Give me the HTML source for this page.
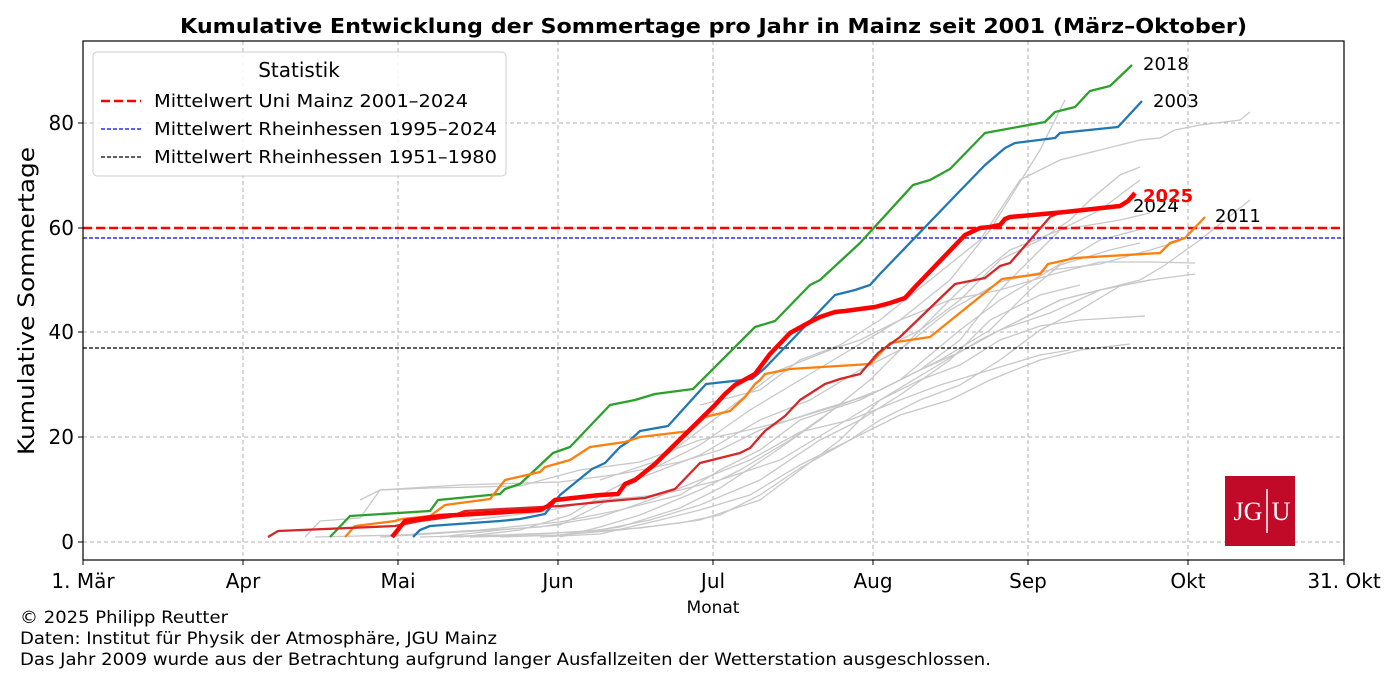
<!DOCTYPE html>
<html><head><meta charset="utf-8"><style>
body{margin:0;background:#fff;}
svg{display:block;font-family:"DejaVu Sans","Liberation Sans",sans-serif;}
</style></head><body>
<svg width="1400" height="700" viewBox="0 0 1400 700">
<rect width="1400" height="700" fill="#fff"/>
<text x="180" y="33" font-size="20" font-weight="bold" textLength="1067" lengthAdjust="spacingAndGlyphs">Kumulative Entwicklung der Sommertage pro Jahr in Mainz seit 2001 (März–Oktober)</text>
<g stroke="#b0b0b0" stroke-width="1" stroke-dasharray="4,3">
<line x1="83" x2="1344" y1="542" y2="542"/><line x1="83" x2="1344" y1="437" y2="437"/>
<line x1="83" x2="1344" y1="332" y2="332"/><line x1="83" x2="1344" y1="228" y2="228"/>
<line x1="83" x2="1344" y1="123" y2="123"/>
<line x1="243" x2="243" y1="41" y2="560"/><line x1="398" x2="398" y1="41" y2="560"/>
<line x1="558" x2="558" y1="41" y2="560"/><line x1="713" x2="713" y1="41" y2="560"/>
<line x1="873" x2="873" y1="41" y2="560"/><line x1="1028" x2="1028" y1="41" y2="560"/>
<line x1="1188" x2="1188" y1="41" y2="560"/>
</g>
<g fill="none" stroke="#c8c8c8" stroke-width="1.3">
<polyline points="305,537 320,521 360,518 380,490 430,488 520,486 580,470 640,462 700,440 740,432 790,420 840,405 880,390 940,360 990,330 1030,290 1060,265 1110,250 1140,243"/>
<polyline points="315,537 400,535 480,530 560,522 620,510 680,495 720,470 760,450 800,420 860,400 900,380 960,330 1000,300 1050,270 1100,240 1145,228"/>
<polyline points="440,537 500,530 560,525 600,505 640,478 700,455 760,420 810,400 860,370 900,350 960,290 1010,250 1060,230 1120,220 1150,213"/>
<polyline points="450,537 540,534 600,530 650,520 700,505 760,480 820,440 860,420 900,395 950,360 990,320 1040,295 1080,285"/>
<polyline points="420,537 500,535 580,532 640,528 700,520 760,500 800,470 840,440 880,400 920,380 960,365 1000,340 1040,326 1080,320 1145,316"/>
<polyline points="470,537 560,535 620,530 680,523 720,515 760,495 800,468 850,440 880,420 920,400 960,385 1000,360 1040,330 1080,310 1120,286 1150,280"/>
<polyline points="500,537 560,535 620,527 680,508 720,488 770,455 820,420 870,380 900,350 950,310 1000,282 1050,270 1100,264 1150,250 1180,241"/>
<polyline points="380,537 460,532 540,527 600,517 650,500 700,480 750,460 800,432 850,420 900,400 940,385 990,370 1040,355 1070,350"/>
<polyline points="560,537 600,527 640,515 700,490 740,470 790,440 840,405 880,390 920,370 960,352 1000,330 1050,313 1100,290 1150,280 1195,274"/>
<polyline points="540,537 600,534 660,520 700,510 750,495 800,465 850,440 900,415 950,400 990,380 1040,360 1080,350 1130,344"/>
<polyline points="360,500 380,490 460,485 560,482 620,474 680,462 720,450 760,430 820,410 870,395 920,370 960,340 1000,290 1040,250 1060,230 1100,210 1140,180"/>
<polyline points="460,537 520,530 570,515 610,490 650,470 700,445 750,410 800,380 850,350 900,320 950,280 990,230 1040,150 1065,100"/>
<polyline points="700,405 760,390 800,360 840,345 880,320 930,280 980,240 1020,180 1060,160 1100,150 1140,140 1160,138 1175,130 1200,125 1240,120 1250,112"/>
<polyline points="600,480 660,460 700,430 740,400 780,370 830,350 860,340 900,320 950,300 1000,290 1050,275 1100,262 1150,262 1195,263"/>
<polyline points="470,520 540,512 600,500 660,495 720,480 780,460 830,430 880,400 930,370 980,340 1020,320 1060,300 1100,290"/>
<polyline points="880,350 920,330 960,300 1000,260 1040,240 1070,220 1090,200 1120,175 1140,167"/>
<polyline points="1020,320 1060,300 1100,290 1140,280 1165,265 1200,240 1250,200"/>
</g>
<line x1="83" x2="1344" y1="228" y2="228" stroke="#ff0000" stroke-width="2.5" stroke-dasharray="9,4"/>
<line x1="83" x2="1344" y1="238" y2="238" stroke="#0000ff" stroke-width="1.2" stroke-dasharray="4,2"/>
<line x1="83" x2="1344" y1="348" y2="348" stroke="#000" stroke-width="1.2" stroke-dasharray="4,2"/>
<g fill="none" stroke-width="2.3" stroke-linejoin="round">
<polyline stroke="#2ca02c" points="330,537 350,516 430,511 438,500 500,494 505,489 520,484 553,453 570,447 610,405 635,400 655,394 693,389 755,327 775,321 810,285 820,280 860,243 913,185 930,180 950,169 985,133 1045,122 1055,112 1075,107 1090,91 1110,86 1132,65"/>
<polyline stroke="#1f77b4" points="413,537 420,530 430,526 500,521 520,519 545,514 560,495 592,469 605,463 620,447 628,442 640,431 668,426 706,384 752,379 765,368 835,295 855,290 870,285 880,274 955,196 985,165 1005,148 1015,143 1055,138 1060,133 1118,127 1142,101"/>
<polyline stroke="#ff7f0e" points="345,537 355,526 395,521 402,519 430,516 445,505 490,499 505,480 540,472 545,467 570,460 590,447 625,442 640,437 690,431 705,417 730,411 745,397 755,384 760,380 765,374 790,369 870,364 890,343 930,337 1002,279 1040,274 1048,264 1075,258 1160,253 1170,243 1185,238 1205,217"/>
<polyline stroke="#d62728" points="268,537 278,531 395,526 420,521 450,517 465,511 560,506 610,501 645,498 675,489 700,463 720,458 740,453 750,448 765,431 785,416 800,400 825,384 840,379 860,374 878,353 900,337 955,284 985,278 1000,266 1010,263 1050,217 1062,212 1120,207 1135,196"/>
<polyline stroke="#ff0000" stroke-width="4.5" points="392,537 405,521 440,516 540,510 548,506 555,500 600,495 618,494 625,484 635,480 655,464 715,405 725,394 735,385 755,374 770,354 790,333 810,322 820,317 835,312 845,311 875,307 890,303 905,298 915,287 965,235 980,228 990,227 1000,225 1005,219 1010,217 1065,212 1120,206 1128,201 1135,193"/>
</g>
<g font-size="18">
<text x="1143" y="70">2018</text><text x="1153" y="107">2003</text>
<text x="1215" y="222">2011</text><text x="1133" y="212">2024</text>
<text x="1143" y="202" fill="#ff0000" font-weight="bold">2025</text>
</g>
<rect x="1225" y="476" width="70" height="70" fill="#c10a27"/>
<text x="1248" y="520" font-size="26" fill="#fff" font-family="Liberation Serif,serif" text-anchor="middle">JG</text>
<line x1="1267" y1="489" x2="1267" y2="533" stroke="#fff" stroke-width="1.5"/>
<text x="1281" y="520" font-size="26" fill="#fff" font-family="Liberation Serif,serif" text-anchor="middle">U</text>
<rect x="83" y="41" width="1261" height="519" fill="none" stroke="#000" stroke-width="1.2"/>
<g stroke="#000">
<line x1="78" x2="83" y1="542" y2="542"/><line x1="78" x2="83" y1="437" y2="437"/>
<line x1="78" x2="83" y1="332" y2="332"/><line x1="78" x2="83" y1="228" y2="228"/>
<line x1="78" x2="83" y1="123" y2="123"/>
<line x1="83" x2="83" y1="560" y2="565"/><line x1="243" x2="243" y1="560" y2="565"/>
<line x1="398" x2="398" y1="560" y2="565"/><line x1="558" x2="558" y1="560" y2="565"/>
<line x1="713" x2="713" y1="560" y2="565"/><line x1="873" x2="873" y1="560" y2="565"/>
<line x1="1028" x2="1028" y1="560" y2="565"/><line x1="1188" x2="1188" y1="560" y2="565"/>
<line x1="1344" x2="1344" y1="560" y2="565"/>
</g>
<g font-size="20" text-anchor="end">
<text x="74" y="549">0</text><text x="74" y="444">20</text><text x="74" y="339">40</text>
<text x="74" y="235">60</text><text x="74" y="130">80</text>
</g>
<g font-size="20" text-anchor="middle">
<text x="83" y="588">1. Mär</text><text x="243" y="588">Apr</text><text x="398" y="588">Mai</text>
<text x="558" y="588">Jun</text><text x="713" y="588">Jul</text><text x="873" y="588">Aug</text>
<text x="1028" y="588">Sep</text><text x="1188" y="588">Okt</text><text x="1344" y="588">31. Okt</text>
</g>
<text x="713" y="613" font-size="17" text-anchor="middle">Monat</text>
<text transform="translate(34,301) rotate(-90)" font-size="22" text-anchor="middle" textLength="308" lengthAdjust="spacingAndGlyphs">Kumulative Sommertage</text>
<rect x="93" y="52" width="413" height="124" rx="4" fill="#fff" fill-opacity="0.85" stroke="#ccc"/>
<text x="299" y="77" font-size="20" text-anchor="middle">Statistik</text>
<line x1="101" x2="141" y1="101" y2="101" stroke="#ff0000" stroke-width="2.5" stroke-dasharray="9,4"/>
<line x1="101" x2="141" y1="129" y2="129" stroke="#0000ff" stroke-width="1.2" stroke-dasharray="4,2"/>
<line x1="101" x2="141" y1="157" y2="157" stroke="#000" stroke-width="1.2" stroke-dasharray="4,2"/>
<g font-size="18">
<text x="154" y="107" textLength="314" lengthAdjust="spacingAndGlyphs">Mittelwert Uni Mainz 2001–2024</text>
<text x="154" y="135" textLength="343" lengthAdjust="spacingAndGlyphs">Mittelwert Rheinhessen 1995–2024</text>
<text x="154" y="163" textLength="343" lengthAdjust="spacingAndGlyphs">Mittelwert Rheinhessen 1951–1980</text>
</g>
<g font-size="17">
<text x="20" y="623" textLength="208" lengthAdjust="spacingAndGlyphs">© 2025 Philipp Reutter</text>
<text x="20" y="644" textLength="477" lengthAdjust="spacingAndGlyphs">Daten: Institut für Physik der Atmosphäre, JGU Mainz</text>
<text x="20" y="665" textLength="971" lengthAdjust="spacingAndGlyphs">Das Jahr 2009 wurde aus der Betrachtung aufgrund langer Ausfallzeiten der Wetterstation ausgeschlossen.</text>
</g>
</svg>
</body></html>
